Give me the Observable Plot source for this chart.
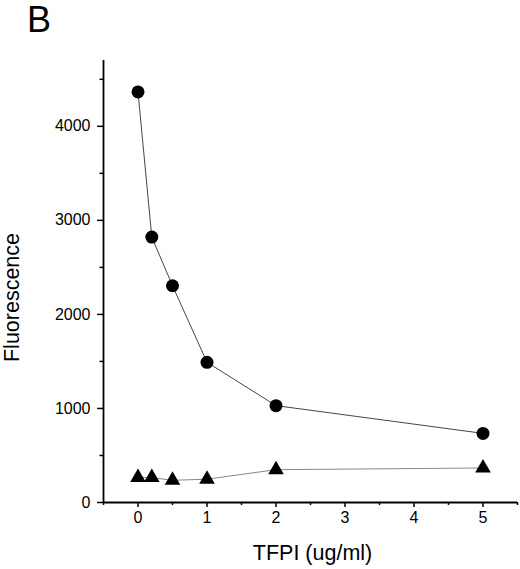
<!DOCTYPE html>
<html>
<head>
<meta charset="utf-8">
<script src="https://cdn.jsdelivr.net/npm/d3@7"></script>
<script src="https://cdn.jsdelivr.net/npm/@observablehq/plot@0.6"></script>
<style>
  html, body { margin: 0; padding: 0; background: #fff; }
</style>
</head>
<body>
<div id="chart"></div>
<script>
const tfpi = [0, 0.2, 0.5, 1, 2, 5];
const circleSeries = [4366, 2822, 2305, 1491, 1030, 735];
const triangleSeries = [265, 265, 236, 248, 349, 367];
const xTicks = [0, 1, 2, 3, 4, 5];
const xMinorTicks = [-0.5, 0.5, 1.5, 2.5, 3.5, 4.5, 5.5];
const yTicks = [0, 1000, 2000, 3000, 4000];
const yMinorTicks = [500, 1500, 2500, 3500, 4500];
const panelLabel = "B";
const xTitle = "TFPI (ug/ml)";
const yTitle = "Fluorescence";

const circles = tfpi.map((x, i) => ({x, y: circleSeries[i]}));
const triangles = tfpi.map((x, i) => ({x, y: triangleSeries[i]}));

const chart = Plot.plot({
  width: 520,
  height: 569,
  marginLeft: 103,
  marginRight: 3,
  marginTop: 60,
  marginBottom: 67,
  x: {domain: [-0.5, 5.5]},
  y: {domain: [0, 4700]},
  style: {fontFamily: "'Liberation Sans', Arial, sans-serif", fontSize: "16px", color: "black", background: "white"},
  marks: [
    Plot.axisX({ticks: xTicks, tickSize: 5, tickPadding: 4, label: null, fontSize: 16, strokeWidth: 1.5, tickFormat: d => String(d)}),
    Plot.axisX({ticks: xMinorTicks, tickSize: 3, label: null, strokeWidth: 1.5, tickFormat: () => ""}),
    Plot.axisY({ticks: yTicks, tickSize: 6, tickPadding: 7, label: null, fontSize: 16, strokeWidth: 1.5, tickFormat: d => String(d)}),
    Plot.axisY({ticks: yMinorTicks, tickSize: 3.5, label: null, strokeWidth: 1.5, tickFormat: () => ""}),
    Plot.ruleY([0], {stroke: "black", strokeWidth: 1.8}),
    Plot.ruleX([-0.5], {stroke: "black", strokeWidth: 1.8}),
    Plot.line(circles, {x: "x", y: "y", stroke: "#444", strokeWidth: 1}),
    Plot.line(triangles, {x: "x", y: "y", stroke: "#888", strokeWidth: 1}),
    Plot.dot(circles, {x: "x", y: "y", r: 6.5, fill: "black", stroke: "none"}),
    Plot.dot(triangles, {x: "x", y: "y", r: 5.8, symbol: "triangle", fill: "black", stroke: "none"}),
    Plot.text([panelLabel], {frameAnchor: "top-left", text: d => d, textAnchor: "start", lineAnchor: "middle", dx: -76.5, dy: -40.5, fontSize: 36, fill: "black"}),
    Plot.text([xTitle], {frameAnchor: "bottom", text: d => d, textAnchor: "middle", lineAnchor: "middle", dx: 2, dy: 51, fontSize: 21.5, fill: "black"}),
    Plot.text([yTitle], {frameAnchor: "left", text: d => d, textAnchor: "middle", lineAnchor: "middle", rotate: -90, dx: -91, dy: 16, fontSize: 21.5, fill: "black"})
  ]
});
document.getElementById("chart").appendChild(chart);
</script>
</body>
</html>
